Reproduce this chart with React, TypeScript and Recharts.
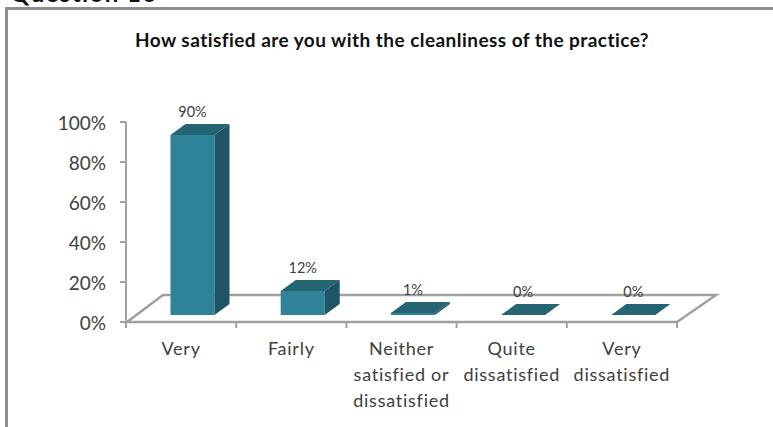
import { Bar, BarChart, LabelList, XAxis, YAxis } from "recharts";

const categories = ["Very", "Fairly", "Neither satisfied or dissatisfied", "Quite dissatisfied", "Very dissatisfied"];
const categoryLines = [["Very"], ["Fairly"], ["Neither", "satisfied or", "dissatisfied"], ["Quite", "dissatisfied"], ["Very", "dissatisfied"]];
const percentages = [90, 12, 1, 0, 0];
const yTicks = [0, 20, 40, 60, 80, 100];

const data = categories.map((name, i) => ({ name, value: percentages[i] }));

const FONT = "Lato, Carlito, sans-serif";
const GREY = "#a0a0a0";
const TEXT = "#404040";
const BAND = 110.2;

// 3d look: how far the back of the chart sits from the front
const DEPTH_X = 15;
const DEPTH_Y = 11;
const BAR_SHIFT_X = 11.5;
const BAR_SHIFT_Y = 7;

// Prism made of front, side and top faces
const Prism = ({ x, y, width, height }: any) => {
  const left = x + BAR_SHIFT_X;
  const right = left + width;
  const top = y - BAR_SHIFT_Y;
  const bottom = top + height;
  return (
    <g>
      <rect x={left} y={top} width={width} height={height} fill="#2f8399" />
      <polygon
        points={`${right},${top} ${right + DEPTH_X},${top - DEPTH_Y} ${right + DEPTH_X},${bottom - DEPTH_Y} ${right},${bottom}`}
        fill="#1e5463"
      />
      <polygon
        points={`${left},${top} ${left + DEPTH_X},${top - DEPTH_Y} ${right + DEPTH_X},${top - DEPTH_Y} ${right},${top}`}
        fill="#256472"
      />
    </g>
  );
};

const BarLabel = ({ x, y, width, index }: any) => (
  <text
    x={x + BAR_SHIFT_X + width / 2}
    y={y - BAR_SHIFT_Y - DEPTH_Y - 11}
    textAnchor="middle"
    dominantBaseline="middle"
    fontFamily={FONT}
    fontSize={14.5}
    fill={TEXT}
  >
    {percentages[index]}%
  </text>
);

const CategoryTick = ({ x, y, index }: any) => (
  <g>
    <line x1={x - BAND / 2} x2={x - BAND / 2} y1={y - 8} y2={y - 2} stroke={GREY} strokeWidth={2} />
    {index === categories.length - 1 && (
      <line x1={x + BAND / 2} x2={x + BAND / 2} y1={y - 8} y2={y - 2} stroke={GREY} strokeWidth={2} />
    )}
    {categoryLines[index].map((line, i) => (
      <text
        key={line}
        x={x}
        y={y + 20.5 + i * 26}
        textAnchor="middle"
        dominantBaseline="middle"
        fontFamily={FONT}
        fontSize={18}
        letterSpacing={0.75}
        fill={TEXT}
      >
        {line}
      </text>
    ))}
  </g>
);

// Floor of the 3d plot, sits behind the bars
const Floor = () => (
  <polygon
    points="127,322 163,295 716,295 677,322"
    fill="#ffffff"
    stroke={GREY}
    strokeWidth={2.5}
  />
);

export default function App() {
  return (
    <div style={{ position: "absolute", left: 0, top: 0, width: 773, height: 427, overflow: "hidden", background: "#fff" }}>
      <div
        style={{
          position: "absolute",
          left: 10,
          top: -19,
          fontFamily: FONT,
          fontWeight: "bold",
          fontSize: 24,
          lineHeight: "24px",
          letterSpacing: 1.4,
          color: "#111",
        }}
      >
        Question 16
      </div>
      <div
        style={{
          position: "absolute",
          left: 5,
          top: 7,
          width: 768,
          height: 420,
          boxSizing: "border-box",
          borderTop: "3px solid #8f8f8f",
          borderLeft: "3px solid #8f8f8f",
        }}
      />
      <BarChart
        width={773}
        height={427}
        data={data}
        margin={{ top: 122, right: 96, bottom: 0, left: 60 }}
        style={{ position: "absolute", left: 0, top: 0 }}
      >
        <text x={392} y={42} textAnchor="middle" dominantBaseline="middle" fontFamily={FONT} fontWeight="bold" fontSize={19} letterSpacing={0.45} fill="#111">
          How satisfied are you with the cleanliness of the practice?
        </text>
        <Floor />
        <YAxis
          width={66}
          domain={[0, 100]}
          ticks={yTicks}
          tickFormatter={(v: number) => `${v}%`}
          tick={{ fontFamily: FONT, fontSize: 19, fill: TEXT, dy: 1 }}
          tickMargin={14}
          tickSize={6}
          interval={0}
          axisLine={{ stroke: GREY, strokeWidth: 2 }}
          tickLine={{ stroke: GREY, strokeWidth: 2 }}
        />
        <XAxis
          dataKey="name"
          height={105}
          interval={0}
          tick={<CategoryTick />}
          tickLine={false}
          axisLine={{ stroke: GREY, strokeWidth: 2 }}
        />
        <Bar dataKey="value" barSize={44} shape={<Prism />} isAnimationActive={false}>
          <LabelList dataKey="value" content={<BarLabel />} />
        </Bar>
      </BarChart>
    </div>
  );
}
